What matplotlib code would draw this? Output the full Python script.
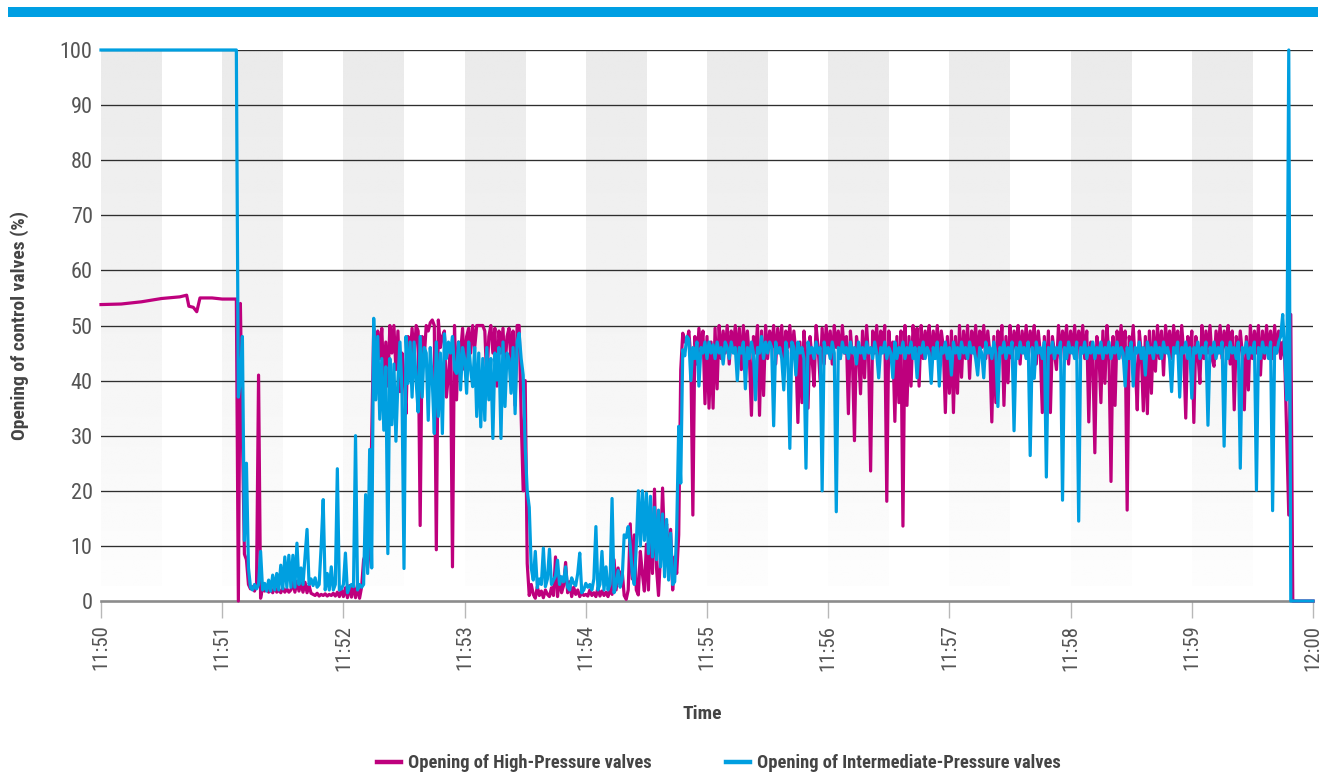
import numpy as np
import matplotlib
matplotlib.use("Agg")
import matplotlib.pyplot as plt
from matplotlib import font_manager as fm
from matplotlib.lines import Line2D
from matplotlib.patches import Rectangle


def pick_condensed_font():
    fonts = fm.fontManager.ttflist
    names = {f.name for f in fonts}
    for cand in ["Roboto Condensed", "Liberation Sans Narrow", "Open Sans Condensed",
                 "Noto Sans Condensed", "DejaVu Sans Condensed", "Arial Narrow",
                 "Noto Sans Display Condensed"]:
        if cand in names:
            return cand, "normal"
    for f in fonts:
        if "Condensed" in f.name or "Narrow" in f.name:
            return f.name, "normal"
    for f in fonts:
        if str(f.stretch) in ("condensed", "semi-condensed", "extra-condensed") or \
           (isinstance(f.stretch, int) and f.stretch < 500):
            return f.name, "condensed"
    return "Roboto", "normal"


FONT, STRETCH = pick_condensed_font()
plt.rcParams["font.family"] = [FONT, "DejaVu Sans"]
plt.rcParams["font.stretch"] = STRETCH

# ---------------- data ----------------
tick_labels = ["11:50", "11:51", "11:52", "11:53", "11:54", "11:55",
               "11:56", "11:57", "11:58", "11:59", "12:00"]
tick_seconds = [0, 60, 120, 180, 240, 300, 360, 420, 480, 540, 600]   # seconds after 11:50
band_starts = [0, 60, 120, 180, 240, 300, 360, 420, 480, 540]          # shaded half-minutes
band_length = 30

series_names = ["Opening of High-Pressure valves",
                "Opening of Intermediate-Pressure valves"]

# slow lead-in of the high-pressure valves (seconds, %)
hp_lead_t = [0, 10, 20, 30, 39, 42.4, 43.5, 45.7, 47.4, 49, 55]
hp_lead = [53.8, 53.9, 54.3, 54.9, 55.2, 55.5, 53.5, 53.3, 52.5, 55.0, 55.0]
ip_lead_t = [0]
ip_lead = [100]

# 1-second samples from 11:51:00 (t = 60 s) to 12:00:00 (t = 600 s)
sample_start = 60
sample_step = 1.0

hp_samples = [
    54.8, 54.8, 54.8, 54.8, 54.8, 54.8, 54.8, 54.8, 0, 54,
    30, 8.5, 7.5, 3, 2.2, 2.6, 1.8, 3, 41, 0.5,
    2.5, 1.8, 2.4, 1.6, 2.2, 1.5, 2.6, 1.6, 2.0, 1.5,
    2.4, 1.6, 2.2, 1.6, 2.0, 3.4, 1.6, 3.6, 1.8, 3.2,
    1.6, 3.4, 1.5, 2.8, 1.4, 1.2, 1.0, 1.4, 0.9, 1.2,
    1.0, 1.3, 0.9, 1.2, 1.0, 1.4, 0.9, 1.6, 0.8, 2.0,
    0.8, 2.4, 0.6, 2.8, 0.7, 3.0, 0.6, 2.6, 0.5, 2.5,
    7.5, 8.5, 6.0, 10, 30, 49.5, 40, 49, 44, 49.5,
    40, 47, 39, 50, 45, 50, 42, 49, 38, 45,
    41, 34, 48, 44, 49.5, 44, 50, 49, 13.7, 48,
    44, 50, 49, 50.5, 51, 50, 9.3, 51, 46, 48,
    49, 37, 41, 46, 6.2, 50, 36.5, 47, 45, 49.5,
    42, 48, 49.5, 45, 50, 46, 50, 50, 50, 50,
    49, 40, 48, 50, 45, 49.5, 39, 49, 45, 49.5,
    42, 48, 49.5, 43, 49, 35.5, 50, 50, 33.5, 20,
    40, 6.8, 1.0, 3.0, 1.2, 0.5, 2.6, 1.0, 1.8, 0.6,
    2.0, 1.2, 0.8, 2.4, 1.0, 8.0, 0.8, 4.5, 1.5, 2.8,
    7.0, 1.5, 3.5, 0.8, 2.5, 1.2, 2.0, 0.8, 1.5, 1.0,
    1.2, 0.9, 2.0, 1.0, 1.5, 0.8, 2.4, 0.9, 1.8, 1.0,
    1.6, 0.8, 2.4, 1.2, 7.5, 2.0, 6.0, 3.0, 5.5, 1.0,
    0.3, 2.0, 14, 4.0, 12, 2.0, 1.1, 9.0, 5.0, 1.8,
    10.3, 2.0, 14, 5.0, 20.3, 6.0, 1.0, 8.6, 20.5, 10,
    14, 6.0, 13, 2.0, 8.0, 5.0, 12, 42, 48.6, 47,
    47, 49, 44, 15.6, 48, 43, 49.5, 45, 49, 35.8,
    48, 35, 47, 35, 49.5, 38.5, 50, 44, 49, 45,
    50, 43, 49, 46, 50, 44, 49.5, 42, 50, 45,
    49, 44, 33.7, 48, 45, 50, 33.7, 49, 37.3, 50,
    44, 49, 46, 50, 43, 49.5, 45, 50, 42, 49,
    46, 50, 44, 49, 45, 32.4, 47, 36, 49, 44,
    35, 48, 44, 39, 50, 46, 40, 49.5, 43, 50,
    45, 49, 43, 50, 46, 49, 44, 50, 45, 48,
    34, 49, 44, 29.1, 48, 45, 37.6, 49, 40.5, 50,
    44, 23.6, 49, 45, 50, 43, 49, 46, 50, 18.1,
    49, 44, 47, 32.6, 48, 36, 49, 13.6, 50, 35.5,
    48, 39, 50, 45, 49.5, 39, 50, 44, 49, 46,
    50, 43, 49, 45, 50, 44, 49, 46, 34.2, 48,
    37.7, 49, 34.2, 48, 37.7, 50, 40.6, 49, 44, 50,
    40.4, 49, 45, 50, 43, 49, 46, 50, 44, 49,
    45, 32.5, 48, 36, 49, 45, 50, 35.5, 48, 39.6,
    50, 44, 49, 46, 50, 43, 49, 45, 50, 44,
    49, 46, 50, 43, 49, 45, 34.2, 48, 39.4, 49,
    34.2, 48, 45, 42, 50, 44, 49, 46, 50, 43,
    49, 45, 50, 44, 49, 46, 50, 44, 49, 32.5,
    47, 44, 26.9, 48, 45, 36, 49, 39.5, 50, 44,
    21.7, 48, 35.5, 49, 45, 50, 44, 49, 16.5, 48,
    45, 50, 43, 34.7, 49, 45, 34.5, 48, 34, 49,
    37.7, 49, 41.7, 50, 44, 49, 41, 50, 45, 49,
    44, 50, 46, 49, 43, 50, 45, 33.2, 48, 44,
    49, 32.4, 48, 45, 39.5, 50, 44, 49, 45, 50,
    44, 42.6, 49, 45, 50, 44, 49, 46, 50, 43,
    49, 34.7, 48, 44, 49, 45, 34.7, 48, 38.3, 50,
    44, 49, 45, 50, 41, 49, 44, 50, 45, 49,
    44, 50, 45, 49, 44, 47, 44, 30, 15.6, 52,
    0, 0, 0, 0, 0, 0, 0, 0, 0, 0,
    0,
]

ip_samples = [
    100, 100, 100, 100, 100, 100, 100, 100, 37, 40,
    48, 11, 25, 6, 2.5, 2.0, 3.0, 2.2, 3.0, 9,
    2.0, 3.2, 1.8, 3.8, 1.8, 4.7, 2.0, 5.0, 2.0, 6.5,
    2.2, 8.0, 2.5, 8.3, 2.5, 8.3, 2.5, 10.5, 3.0, 6.0,
    3.0, 8.0, 13, 3.0, 4.0, 2.8, 4.2, 2.5, 3.0, 10,
    18.4, 2.0, 5.0, 2.0, 6.2, 2.0, 3.0, 24, 2.0, 2.2,
    3.0, 8.7, 1.5, 2.5, 3.0, 2.6, 30, 2.0, 3.0, 2.5,
    3.0, 19.3, 5.0, 27.5, 6.0, 51.3, 36.5, 48, 33, 44,
    31, 42.5, 8.6, 44, 32, 43, 29, 40, 47, 38,
    5.9, 48, 39.5, 47, 37, 47, 40, 34.3, 48, 37,
    46, 45, 32.8, 46, 40, 30.4, 47, 33.5, 45, 30.4,
    48.5, 44, 47, 45, 48, 42, 41.3, 47, 38.3, 46,
    44, 37.7, 47, 42, 38.9, 46, 33.5, 45, 31.6, 44,
    32.8, 46, 36.5, 44, 29.5, 45, 40.1, 46, 29.5, 47,
    35.3, 45, 44, 37.7, 46, 34, 47, 48.6, 44, 41,
    28, 20, 17, 6, 3.8, 9, 2.4, 4, 3, 9.6,
    2.6, 4, 9.4, 3, 3.8, 4.5, 7.4, 3, 4.4, 3.5,
    6.2, 2.5, 2, 4.2, 3.2, 2.8, 5, 8.7, 1.5, 2,
    3.2, 2.5, 3, 2, 4, 13.5, 2, 3, 9, 2,
    6.2, 2, 3, 18.6, 1.5, 3, 5.5, 2.5, 4, 12,
    11.5, 13.5, 10, 5, 3, 10, 20, 10, 20, 11,
    19.6, 8.6, 19, 8, 17, 7.5, 16.5, 6.2, 15.8, 4.4,
    14.8, 3.8, 12.3, 3, 3.5, 13, 31.7, 21.4, 45.6, 44.5,
    48, 47.5, 40, 46, 44, 47, 39, 46, 45, 47,
    44, 47, 45, 46.5, 44, 47, 45, 46, 43, 47,
    46, 44, 47, 45, 46, 40, 46, 45, 47, 38.5,
    46, 44, 47, 45, 36.5, 46, 45, 48, 44, 47,
    45, 47, 46, 31.8, 47, 45, 46, 44, 38.3, 47,
    45, 27.7, 47, 46, 41, 47, 45, 46, 44, 24.1,
    47, 45, 46, 44, 47, 45, 46, 20, 47, 45,
    46, 44, 47, 45, 16.2, 46, 44, 47, 45, 46,
    44, 47, 45, 46, 43, 47, 45, 46, 44, 47,
    45, 46, 44, 47, 45, 40.5, 46, 45, 47, 44,
    46, 45, 40.5, 47, 44, 46, 45, 47, 44, 46,
    45, 47, 44, 46, 40.5, 46, 45, 47, 44, 46,
    45, 39.5, 46, 44, 47, 39, 46, 45, 47, 44,
    46, 41, 47, 45, 46, 44, 47, 45, 46, 44,
    47, 45, 46, 44, 41, 46, 45, 40.5, 47, 45,
    46, 44, 47, 45, 35.3, 46, 45, 47, 44, 46,
    45, 47, 30.9, 46, 44, 47, 45, 46, 44, 47,
    26.4, 46, 40.4, 47, 45, 46, 44, 47, 22.5, 46,
    45, 47, 44, 46, 45, 47, 18.3, 46, 44, 47,
    45, 46, 44, 47, 14.5, 46, 45, 47, 44, 46,
    45, 47, 44, 46, 45, 47, 44, 46, 45, 47,
    44, 46, 45, 47, 44, 46, 45, 39, 46, 44,
    47, 39, 46, 45, 47, 44, 46, 41, 47, 45,
    46, 44, 47, 45, 46, 44, 47, 45, 46, 44,
    38, 46, 45, 47, 37, 46, 45, 47, 44, 46,
    36.8, 46, 45, 47, 44, 46, 45, 47, 31.9, 46,
    45, 47, 44, 46, 45, 47, 28.1, 46, 44, 47,
    45, 46, 44, 47, 24.1, 46, 45, 47, 44, 46,
    45, 47, 20.1, 46, 44, 47, 45, 46, 44, 47,
    16.4, 46, 45, 47, 48, 52, 45, 36.5, 100, 0,
    0, 0, 0, 0, 0, 0, 0, 0, 0, 0,
    0,
]

# ---------------- style ----------------
HP_COLOR = "#be007d"
IP_COLOR = "#009fe0"
TEXT_COLOR = "#555555"
LABEL_COLOR = "#444444"

W, H = 1325, 776
fig = plt.figure(figsize=(W / 100, H / 100), dpi=100)
fig.patch.set_facecolor("white")

# top brand bar
fig.add_artist(Rectangle((8 / W, 1 - 17 / H), 1310 / W, 10 / H,
                         transform=fig.transFigure, color="#009fe3", lw=0))

ax = fig.add_axes([101 / W, 1 - 601 / H, 1212 / W, 551 / H])
ax.set_facecolor("white")

# shaded half-minute bands with vertical fade
grad = np.linspace(0.918, 0.992, 256).reshape(-1, 1)
for s in band_starts:
    ax.imshow(grad, cmap="gray", vmin=0, vmax=1, origin="upper",
              extent=(s, s + band_length, 2.8, 100), aspect="auto",
              interpolation="bilinear", zorder=0)

yticks = list(range(0, 101, 10))
for v in yticks[1:]:
    ax.axhline(v, color="#2e2e2e", lw=0.95, zorder=1)
ax.axhline(0, color="#8c8c8c", lw=1.9, zorder=2, clip_on=False)

hp_t = np.concatenate([hp_lead_t, sample_start + sample_step * np.arange(len(hp_samples))])
hp_v = np.concatenate([hp_lead, hp_samples])
ip_t = np.concatenate([ip_lead_t, sample_start + sample_step * np.arange(len(ip_samples))])
ip_v = np.concatenate([ip_lead, ip_samples])

ax.plot(hp_t, hp_v, color=HP_COLOR, lw=2.3, zorder=4, clip_on=False,
        solid_joinstyle="round")
ax.plot(ip_t, ip_v, color=IP_COLOR, lw=2.3, zorder=5, clip_on=False,
        solid_joinstyle="round")

ax.set_xlim(0, 600)
ax.set_ylim(0, 100)
for sp in ax.spines.values():
    sp.set_visible(False)

ax.set_yticks(yticks)
ax.set_yticklabels([str(v) for v in yticks])
ax.tick_params(axis="y", length=0, pad=6, labelsize=16, labelcolor=TEXT_COLOR)

ax.set_xticks(tick_seconds)
ax.set_xticklabels(tick_labels, rotation=90)
ax.tick_params(axis="x", length=12, width=1.0, color="#b8b8b8", pad=5,
               labelsize=15, labelcolor=TEXT_COLOR)

fig.text(20 / W, 1 - 325 / H, "Opening of control valves (%)", rotation=90,
         ha="center", va="center", fontsize=14, fontweight="bold", color=LABEL_COLOR)
fig.text(702 / W, 1 - 714 / H, "Time", ha="center", va="center",
         fontsize=14, fontweight="bold", color=LABEL_COLOR)

handles = [Line2D([], [], color=HP_COLOR, lw=3.2),
           Line2D([], [], color=IP_COLOR, lw=3.2)]
fig.legend(handles, series_names, loc="center", bbox_to_anchor=(719 / W, 1 - 763 / H),
           ncol=2, frameon=False, handlelength=1.3,
           handletextpad=0.4, columnspacing=4.0, labelcolor=LABEL_COLOR,
           prop={"weight": "bold", "size": 13.3})

fig.savefig("out.png", dpi=100, facecolor="white")
